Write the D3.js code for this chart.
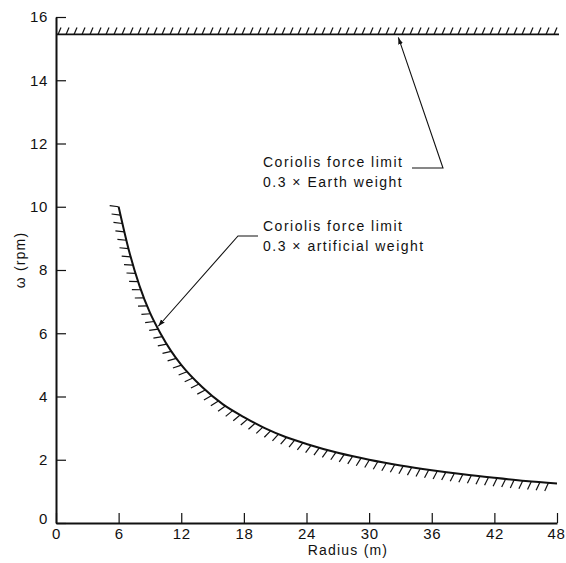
<!DOCTYPE html>
<html><head><meta charset="utf-8">
<script src="https://cdn.jsdelivr.net/npm/d3@7"></script>
<style>
body{margin:0;background:#fff}
text{font-family:"Liberation Sans",Arial,Helvetica,sans-serif;fill:#111}
</style>
</head><body>
<svg id="chart" width="566" height="563"></svg>
<script>
// ---- data ----
const xTicks = [0, 6, 12, 18, 24, 30, 36, 42, 48];
const yTicks = [0, 2, 4, 6, 8, 10, 12, 14, 16];
const radius = [6, 7, 8, 9, 10, 11, 12, 14, 16, 18, 20, 22, 24, 27, 30, 33, 36, 39, 42, 45, 48];
const omega  = [10.0, 8.6, 7.5, 6.65, 6.0, 5.45, 5.0, 4.3, 3.75, 3.35, 3.0, 2.72, 2.5, 2.22, 2.0, 1.82, 1.67, 1.54, 1.43, 1.33, 1.25];
const earthLimit = 15.45;
const earthText = ["Coriolis force limit", "0.3 \u00D7 Earth weight"];
const artText = ["Coriolis force limit", "0.3 \u00D7 artificial weight"];
const xLabel = "Radius (m)";
const yLabel = "\u03C9 (rpm)";

// ---- chart ----
const svg = d3.select("#chart");
const x = d3.scaleLinear().domain([0, 48]).range([56, 557]);
const y = d3.scaleLinear().domain([0, 16]).range([523, 17]);

// axes
const yAxis = d3.axisLeft(y).tickValues(yTicks).tickSize(-10).tickSizeOuter(0).tickPadding(8);
const gy = svg.append("g").attr("transform", `translate(${x(0)},0)`).call(yAxis);
const xAxis = d3.axisBottom(x).tickValues(xTicks).tickSize(-10).tickSizeOuter(0).tickPadding(5);
const gx = svg.append("g").attr("transform", `translate(0,${y(0)})`).call(xAxis);
[gx, gy].forEach(g => {
  g.select(".domain").attr("stroke", "#111").attr("stroke-width", 2);
  g.selectAll(".tick line").attr("stroke", "#111").attr("stroke-width", 1.2);
  g.selectAll(".tick text").attr("font-size", 15).attr("letter-spacing", 0.6).attr("fill", "#111")
    .style("font-family", '"Liberation Sans",Arial,sans-serif');
});
gy.selectAll(".tick").filter(d => d === 0).select("text").attr("dy", "0.0em");
gx.selectAll(".tick").filter(d => d === 48).select("text").attr("text-anchor", "end").attr("x", 8);

svg.append("text").attr("x", 348).attr("y", 555).attr("text-anchor", "middle")
  .attr("font-size", 14).attr("letter-spacing", 1.2).text(xLabel);
svg.append("text").attr("transform", "translate(25,260) rotate(-90)").attr("text-anchor", "middle")
  .attr("font-size", 14).attr("letter-spacing", 1.2).text(yLabel);

// Earth-weight limit (hatched horizontal line)
const yE = y(earthLimit);
svg.append("line").attr("x1", x(0)).attr("x2", x(48) + 2).attr("y1", yE).attr("y2", yE)
  .attr("stroke", "#111").attr("stroke-width", 1.6);
const hatchTop = d3.range(x(0) + 2, x(48), 8);
svg.append("g").selectAll("line").data(hatchTop).join("line")
  .attr("x1", d => d).attr("y1", yE).attr("x2", d => d + 3).attr("y2", yE - 7)
  .attr("stroke", "#111").attr("stroke-width", 1.2);

// artificial-weight limit curve
const line = d3.line().x(d => x(d[0])).y(d => y(d[1])).curve(d3.curveMonotoneX);
const curve = svg.append("path").datum(d3.zip(radius, omega)).attr("d", line)
  .attr("fill", "none").attr("stroke", "#111").attr("stroke-width", 2);
const node = curve.node();
const L = node.getTotalLength();
const th = 20 * Math.PI / 180, hl = 9, step = 8.6;
const hatches = [];
for (let s = 0; s <= L + 0.01; s += step) {
  const p = node.getPointAtLength(Math.min(s, L));
  const a = node.getPointAtLength(Math.max(0, s - 0.8));
  const b = node.getPointAtLength(Math.min(L, s + 0.8));
  let tx = b.x - a.x, ty = b.y - a.y;
  const n = Math.hypot(tx, ty); tx /= n; ty /= n;
  const nx = -ty, ny = tx;
  const hx = nx * Math.cos(th) - ny * Math.sin(th);
  const hy = nx * Math.sin(th) + ny * Math.cos(th);
  hatches.push({x1: p.x, y1: p.y, x2: p.x + hx * hl, y2: p.y + hy * hl});
}
svg.append("g").selectAll("line").data(hatches).join("line")
  .attr("x1", d => d.x1).attr("y1", d => d.y1).attr("x2", d => d.x2).attr("y2", d => d.y2)
  .attr("stroke", "#111").attr("stroke-width", 1.2);

// arrowhead marker
svg.append("defs").append("marker").attr("id", "arr").attr("viewBox", "0 0 10 10")
  .attr("refX", 10).attr("refY", 5).attr("markerWidth", 7).attr("markerHeight", 7)
  .attr("markerUnits", "userSpaceOnUse").attr("orient", "auto")
  .append("path").attr("d", "M0,1.5 L10,5 L0,8.5 Z").attr("fill", "#111");

// annotations
function annot(lines, tx, ty) {
  const t = svg.append("text").attr("x", tx).attr("y", ty).attr("font-size", 14).attr("letter-spacing", 1.5);
  lines.forEach((l, i) => t.append("tspan").attr("x", tx).attr("dy", i ? 20 : 0).text(l));
}
annot(earthText, 263, 167);
annot(artText, 263, 231);

svg.append("path").attr("d", `M412,168 L443,168 L${x(32.8)},${yE + 3}`)
  .attr("fill", "none").attr("stroke", "#111").attr("stroke-width", 1.1).attr("marker-end", "url(#arr)");
svg.append("path").attr("d", `M258,236 L238,236 L${x(9.7) + 1},${y(6.19) - 1}`)
  .attr("fill", "none").attr("stroke", "#111").attr("stroke-width", 1.1).attr("marker-end", "url(#arr)");
</script>
</body></html>
